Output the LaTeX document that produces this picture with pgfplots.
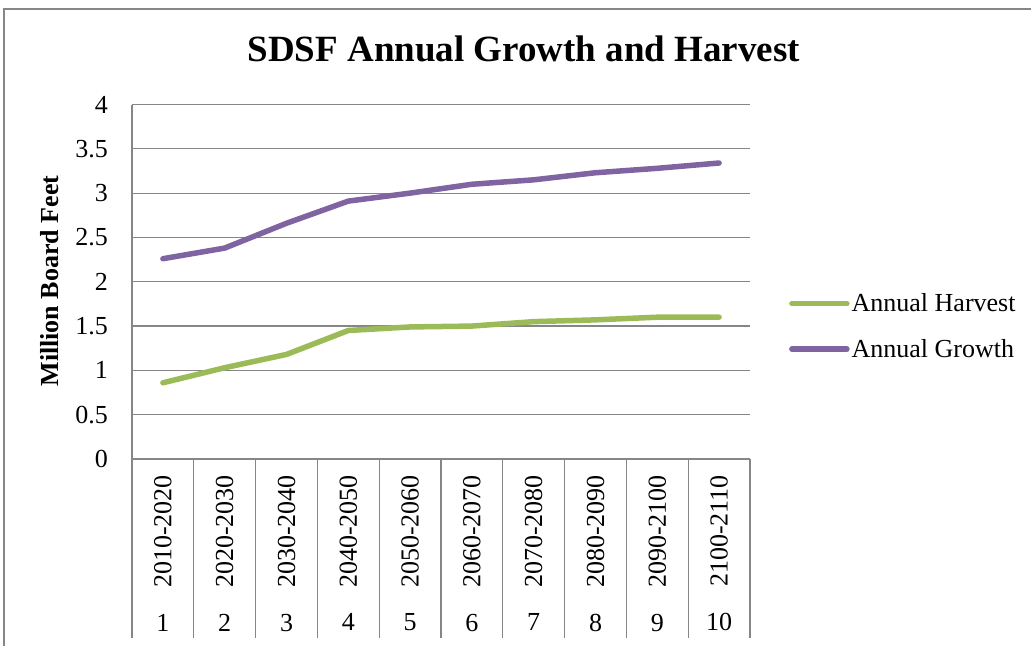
\documentclass[border=0pt]{standalone}
\usepackage{pgfplots}
\pgfplotsset{compat=1.18}
\usepackage{graphicx}
\usepackage{fontspec}
\setmainfont{Liberation Serif}
\definecolor{harvcol}{RGB}{155,187,89}
\definecolor{growcol}{RGB}{128,100,162}
\definecolor{gridc}{RGB}{134,134,134}
\newcommand{\cat}[2]{\vbox{\offinterlineskip\hbox to 0pt{\hss\rotatebox{90}{#1}\hss}\kern 26bp\hbox to 0pt{\hss #2\hss}}}
\begin{document}
\begin{tikzpicture}
\useasboundingbox (0,0) rectangle (1031bp,-646bp);
\draw[gridc, line width=1.2bp] (4bp,-646bp) -- (4bp,-9bp) -- (1031bp,-9bp);
\begin{axis}[
  at={(132bp,-459bp)}, anchor=south west,
  scale only axis, width=618bp, height=354.5bp,
  xmin=0.5, xmax=10.5, ymin=0, ymax=4,
  ytick={0,0.5,...,4},
  yticklabels={0,0.5,1,1.5,2,2.5,3,3.5,4},
  xtick={1,...,10},
  xticklabels={\cat{2010-2020}{1},\cat{2020-2030}{2},\cat{2030-2040}{3},\cat{2040-2050}{4},\cat{2050-2060}{5},\cat{2060-2070}{6},\cat{2070-2080}{7},\cat{2080-2090}{8},\cat{2090-2100}{9},\cat{2100-2110}{10}},
  major tick length=0pt,
  axis x line*=bottom, axis y line*=left,
  axis line style={gridc, line width=1.2bp},
  ymajorgrids, grid style={gridc, line width=1.2bp},
  tick label style={font=\fontsize{26bp}{31bp}\selectfont},
  xticklabel style={anchor=north, inner sep=0pt, yshift=-16bp},
  yticklabel style={anchor=east, inner sep=0pt, xshift=-24bp},
  title={SDSF Annual Growth and Harvest},
  title style={font=\fontsize{37bp}{44bp}\selectfont\bfseries, at={(axis description cs:0.634,1.14)}, anchor=center},
  ylabel={Million Board Feet},
  ylabel style={font=\fontsize{26bp}{31bp}\selectfont\bfseries, at={(axis description cs:-0.1327,0.502)}, anchor=center},
  legend style={at={(axis description cs:1.063,0.472)}, anchor=north west, draw=none, fill=none,
    font=\fontsize{26bp}{31bp}\selectfont, row sep=22bp, inner sep=0pt, column sep=0pt,
    nodes={inner sep=2bp}},
  legend cell align=left,
  legend image code/.code={\draw[#1, line cap=round] (0bp,0bp) -- (55bp,0bp);},
  clip=false,
]
\pgfplotsinvokeforeach{0,...,10}{\draw[gridc, line width=1.2bp] (axis cs:#1+0.5,0) -- ([yshift=-179bp]axis cs:#1+0.5,0);}
\addplot[harvcol, line width=5.5bp, line cap=round, line join=round] coordinates {
(1,0.86) (2,1.03) (3,1.18) (4,1.45) (5,1.49) (6,1.50) (7,1.55) (8,1.57) (9,1.60) (10,1.60)};
\addlegendentry{Annual Harvest}
\addplot[growcol, line width=5.5bp, line cap=round, line join=round] coordinates {
(1,2.26) (2,2.38) (3,2.66) (4,2.91) (5,3.00) (6,3.10) (7,3.15) (8,3.23) (9,3.28) (10,3.34)};
\addlegendentry{Annual Growth}
\end{axis}
\end{tikzpicture}
\end{document}
